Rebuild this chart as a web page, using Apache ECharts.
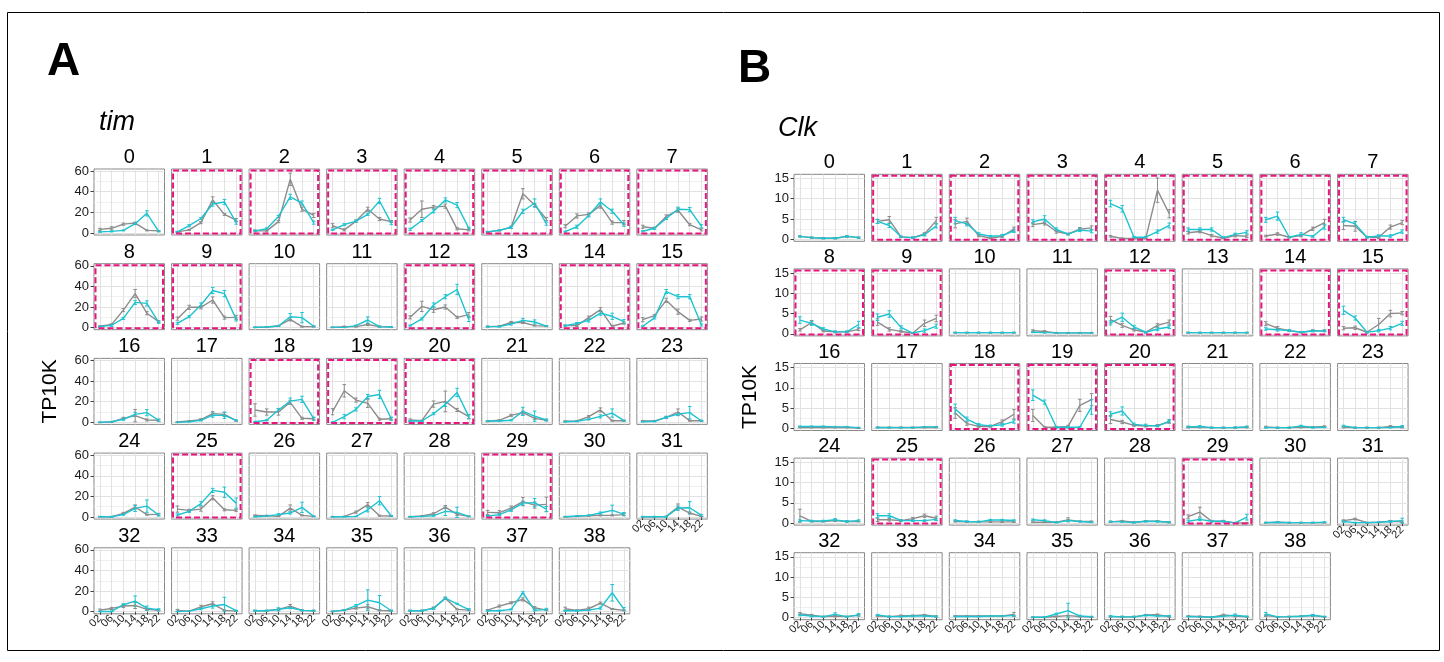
<!DOCTYPE html>
<html><head><meta charset="utf-8">
<script src="https://cdn.jsdelivr.net/npm/echarts@6/dist/echarts.min.js"></script>
<style>html,body{margin:0;padding:0;background:#fff}#c{width:1444px;height:662px}</style>
</head><body><div id="c"></div>
<script>
// ---------- data ----------
const hours = ['02','06','10','14','18','22'];
const clusters = ['0','1','2','3','4','5','6','7','8','9','10','11','12','13','14','15','16','17','18','19','20','21','22','23','24','25','26','27','28','29','30','31','32','33','34','35','36','37','38'];
const highlighted = [1,2,3,4,5,6,7,8,9,12,14,15,18,19,20,25,29];
const timTicks = [0,20,40,60];
const timGridVals = [0,10,20,30,40,50,60];
const clkTicks = [0,5,10,15];
const clkGridVals = [0,2.5,5,7.5,10,12.5,15];

const timGray = [
[3.5,4.5,8.5,9.5,2.5,2],[1,3,10,32,18,12.5],[2,2,11,52,23,17],[7,3,11.5,23,13.5,11],
[12.5,23,25,26,4,3],[1,2.5,5.5,38,27,13.5],[6.5,16.5,18,26.5,10,10],[6,4.5,16,22,8,3],
[1.3,3.2,17,33,14,5.8],[8.7,19.7,19.7,26.8,9.7,10],[0.3,0.6,1.6,8,1,1],[0.3,1,1,3,1,0.6],
[10,20.6,17.4,20,10,12.6],[1,1.5,5,5,2,1.5],[2,2,9.7,17.4,1.3,4.5],[7.7,11.6,26.5,15.5,7,8.4],
[0,0.3,3.9,6.5,2.3,2],[0.3,1.3,2.6,8.4,7.7,1.6],[12,10,10,19.4,3.9,3.5],[10.3,30.6,21.6,18.4,3,3.5],
[2.3,1.6,17.7,20.3,12,5.5],[1,2,6.8,9.4,3.9,2],[1,1.3,5.5,12,1.6,1.6],[1.3,1.3,4.8,10,1.6,1.6],
[0.3,0.3,3.5,9.7,2.3,2.6],[7.7,6.5,7.7,18.7,7,6.5],[1.6,1.3,0.6,8.7,1.6,0.6],[0.3,0.6,4.8,12,1.3,1],
[0.3,1,3.2,9.7,2.6,0.6],[4.5,4.2,8.7,15,11.6,12.3],[0.3,0.6,1.3,1.6,1.6,2.3],[0.3,0.3,0.6,9.7,3.9,0.6],
[1.6,3.2,5.5,6.1,2.3,1.3],[1.3,0.6,4.8,7.7,1.3,0.6],[1,1,2.3,5.5,1.3,1],[0.3,1.6,3.5,4.8,1.3,1],
[1,1,3.5,13,2.3,1.6],[1.6,5.5,8.7,12,3.9,1.6],[2.9,1.3,2.9,8.4,2.6,1.3]];
const timCyan = [
[1,1.5,2.5,9,19,1.5],[1,7,14,28,30,10],[2,4,16,35,29,10],[3,8,11.5,18,31,9.5],
[3.5,12,21,32,27,4.5],[1,2.5,5.5,21,29,9],[1.3,6,17,30,21,8],[1.6,4.5,14,23,22.6,6.5],
[1,2.3,9,24.5,23.5,5.2],[4.2,10.6,22,36,33,8],[0.3,0.6,1.6,10.6,9.7,1.3],[0.3,0.3,2,7.4,1,0.6],
[2,8.4,22,30,37,8],[1,1,3.5,7,5.5,1.5],[2,4,7,14,11,5.8],[1.3,9.4,35,30,30,2.6],
[0,0.6,3,7.7,9.4,2],[0,0.6,2,7,6.8,1.8],[0.6,2,12,20.6,22.3,3.5],[0,5.5,12.6,25,27,3.5],
[1.3,1.3,8.4,17.4,29,5.5],[1.3,1.3,2,10.6,6,2.3],[0.6,1,2.9,5.8,9,1.6],[0.6,1,4.8,8,9.4,1.3],
[0.3,0.3,2.3,8.4,10.6,2],[2,5.5,13,25.8,24,13.5],[0.3,1,2.3,3.9,9.4,0.6],[0.3,0.3,0.6,7,15.8,1],
[0.3,0.6,1.3,5.5,4.5,0.6],[1,2.3,7,13.5,14,7.7],[0.3,1,1.6,3.9,6.5,2.9],[0.3,0.3,0.3,8.7,9,1.6],
[0.3,0.3,6.8,10.3,3.5,1.9],[0.3,0.6,2.9,5.5,7,1],[1,1,2.3,3.9,1.3,1],[0.3,1.6,6,11.3,8.7,1],
[1,1,3.2,13.2,7.7,2],[1,1,2.3,18.4,1.3,2.3],[1,1,1.6,3.5,18.4,2.6]];
const timGrayErr = [
[1,1.5,1,1,0.5,0.5],[0.5,0.5,1,3,1,1.5],[1,1,1,6,2,2],[2,1,1,2,1.5,1],
[2,8,1.5,2,1,1],[0.5,0.5,1,5,1.5,1.5],[1.5,2,1.5,2.5,1.5,2],[1.5,1,1.5,2,1,1],
[0.5,0.5,1.5,4,1.5,1],[1.5,2,1.5,3,1.5,2],[0.3,0.3,0.5,1.5,0.5,0.5],[0.3,0.5,0.5,1,0.5,0.3],
[1.5,5,2.5,2,1,2],[0.5,0.5,1,1,0.5,0.5],[0.5,1,1.5,2,1,1],[2,1,2,2.5,1,2],
[0.3,0.3,1,6,1,1],[0.3,0.5,1,2,2,0.5],[6,3,3,2,1,1],[3,6,2,4,1,1],
[1,0.5,3,10,1.5,2],[0.5,0.5,1,1.5,1,0.5],[0.5,0.5,1,2,0.5,0.5],[0.5,0.5,1,3,0.5,0.5],
[0.3,0.3,1,2,0.5,1],[3,1,2,2,1,1],[0.5,0.5,0.3,3,0.5,0.3],[0.3,0.3,1,2,0.5,0.5],
[0.3,0.5,1,1.5,1,0.3],[2,2,2,4,3,7],[0.3,0.3,0.5,0.5,0.5,1],[0.3,0.3,0.3,3,1,0.3],
[1,1,1.5,3,1,0.5],[1,0.3,1.5,2,0.5,0.3],[0.5,0.5,1,1.5,0.5,0.5],[0.3,0.5,1,2,0.5,0.5],
[0.5,0.5,1,1,0.5,0.5],[0.5,1,1,1.5,1,0.5],[1.5,0.5,1.5,1,0.5,0.5]];
const timCyanErr = [
[0.5,0.5,0.5,1,2.5,0.5],[0.5,1,1,2,2.5,1.5],[0.5,1,1,2.5,2,1.5],[0.5,1,1,1,2.5,1.5],
[1,1,1.5,2,2.5,1],[0.5,0.5,1,2,4,1.5],[0.5,1.5,1.5,3,2,1.5],[0.5,1,1,2,2,1.5],
[0.5,1,1,2,2.5,1],[1,1,2,3,3,1.5],[0.3,0.3,0.5,3,5,0.5],[0.3,0.3,0.5,3,0.5,0.3],
[0.5,1,2,2,5,2],[0.5,0.5,1,2,2,0.5],[0.5,1,1.5,2,3,2],[0.5,1,2,2,2,1],
[0.3,0.3,1,2,3,1],[0.3,0.3,0.5,2,3,0.5],[0.5,0.5,1.5,3,3,1.5],[0.5,2,1.5,2,4,1.5],
[0.5,0.5,1,2,4,2],[0.5,0.5,0.5,4,5,1],[0.3,0.5,0.5,1.5,4,0.5],[0.3,0.5,1,1.5,6,0.5],
[0.3,0.3,0.5,3,6,1],[1,1,2,2,5,5],[0.3,0.5,1,1,5,0.3],[0.3,0.3,0.3,2,4,0.5],
[0.3,0.3,0.5,4,5,0.3],[0.5,1,1.5,2,4,2.5],[0.3,0.5,0.5,1,5,1.5],[0.3,0.3,0.3,2,6,1],
[0.3,0.3,1,5,2,1],[0.3,0.3,1,2,7,0.5],[0.5,0.5,1.5,1,0.5,0.5],[0.3,0.5,1,10,7,0.5],
[0.5,0.5,1,1,0.5,1],[0.5,0.5,0.5,1,0.5,1],[0.5,0.5,0.5,1,8,1.5]];

const clkGray = [
[0.7,0.4,0.25,0.25,0.7,0.4],[4.4,4.8,0.6,0.4,1.3,4.6],[3.8,4.4,0.9,0.25,0.75,2.5],[3.6,4,1.9,1.3,2.5,2.8],
[0.75,0.2,0.2,0.2,12.1,6.3],[1.6,1.9,0.9,0.25,0.9,0.75],[0.8,1.3,0.5,0.9,2.6,4.1],[3.4,3.2,0.5,0.5,3,4.1],
[1,2.8,0.7,0.5,0.5,1.1],[2.9,1.1,0.6,0.2,2.6,3.8],[0.3,0.3,0.3,0.3,0.3,0.3],[0.8,0.6,0.25,0.25,0.25,0.25],
[3.5,2.1,1,0.4,2.1,2.9],[0.3,0.3,0.3,0.3,0.3,0.3],[2.5,1.4,0.8,0.4,0.8,0.8],[1.4,1.5,0.4,2.3,5,5.1],
[0.25,0.25,0.25,0.25,0.25,0.1],[0.25,0.25,0.25,0.25,0.25,0.25],[3.8,1.2,0.5,0.5,1.7,3.5],[3.2,0.3,0.3,0.5,5.7,7.1],
[2.2,1.6,0.75,0.6,0.75,1.6],[0.3,0.3,0.2,0.2,0.2,0.3],[0.4,0.2,0.2,0.3,0.3,0.5],[0.3,0.2,0.2,0.2,0.5,0.3],
[1.8,0.4,0.4,0.6,0.4,0.4],[0.8,0.8,0.6,1.1,1.8,1.2],[0.4,0.3,0.3,0.3,0.3,0.3],[0.2,0.2,0.2,0.8,0.4,0.4],
[0.3,0.5,0.2,0.45,0.45,0.2],[1.6,2.7,0.45,0.45,0.05,0.05],[0.1,0.2,0.1,0.1,0.1,0.1],[0.6,1,0.1,0.2,0.45,0.3],
[1,0.6,0.25,0.4,0.25,0.6],[0.4,0.25,0.5,0.5,0.65,0.3],[0.4,0.4,0.4,0.4,0.4,0.8],[0.1,0.1,0.3,0.5,0.3,0.15],
[0.25,0.2,0.2,0.65,0.75,0.25],[0.35,0.3,0.1,0.65,0.4,0.2],[0.5,0.2,0.25,0.35,0.5,0.2]];
const clkCyan = [
[0.7,0.4,0.25,0.25,0.7,0.4],[4.4,3.4,0.6,0.4,1.1,3.3],[4.6,3.8,1.3,0.75,0.9,2.1],[4.3,5,2.4,1.25,2.3,2],
[8.8,7.5,0.5,0.5,1.9,3.4],[2.4,2.4,2.4,0.4,1.2,1.7],[4.8,5.7,0.5,1.2,0.7,3.1],[4.8,3.8,0.5,0.8,0.8,1.9],
[3.4,2.6,1.2,0.5,0.5,2.3],[4.1,4.9,1.6,0.2,0.8,1.9],[0.3,0.3,0.3,0.3,0.3,0.3],[0.4,0.3,0.25,0.25,0.25,0.25],
[2.7,4.1,1.7,0.4,1.2,1.7],[0.3,0.3,0.3,0.3,0.3,0.3],[1.2,1,0.8,0.4,0.7,0.7],[5.8,3.9,0.4,0.8,1.4,2.6],
[0.5,0.5,0.5,0.4,0.4,0.2],[0.25,0.2,0.2,0.2,0.4,0.4],[4.8,2.3,0.9,0.65,0.9,1.7],[8.2,6.5,0.3,0.3,0.3,5.3],
[3.5,4.3,1,0.75,0.6,1.8],[0.4,0.5,0.2,0.2,0.25,0.4],[0.2,0.2,0.2,0.6,0.25,0.3],[0.6,0.2,0.2,0.2,0.25,0.5],
[0.6,0.5,0.5,0.8,0.4,0.6],[1.8,1.8,0.65,0.6,0.6,0.9],[0.65,0.4,0.3,0.75,0.75,0.65],[0.8,0.6,0.15,0.6,0.4,0.2],
[0.35,0.3,0.15,0.45,0.4,0.2],[0.45,0.9,0.45,0.45,0.05,1.45],[0.1,0.2,0.1,0.1,0.1,0.2],[0.4,0.1,0.1,0.2,0.4,0.6],
[0.65,0.4,0.25,0.8,0.25,0.7],[0.65,0.25,0.3,0.4,0.4,0.3],[0.3,0.3,0.3,0.4,0.4,0.5],[0.1,0.1,0.9,1.75,0.4,0.25],
[0.35,0.2,0.2,0.6,0.4,0.4],[0.3,0.2,0.1,0.35,0.6,0.3],[0.9,0.2,0.25,0.35,0.6,0.25]];
const clkGrayErr = [
[0.15,0.15,0.15,0.15,0.15,0.15],[0.5,0.8,0.15,0.15,0.3,0.8],[1,0.8,0.3,0.15,0.3,0.5],[0.5,0.5,0.4,0.2,0.4,0.5],
[0.2,0.1,0.1,0.1,3,1],[0.3,0.3,0.3,0.1,0.3,0.3],[0.2,0.3,0.1,0.3,0.4,0.8],[1,1.2,0.2,0.3,0.5,0.5],
[0.3,0.5,0.2,0.2,0.2,0.3],[0.8,0.4,0.2,0.1,0.8,0.8],[0.1,0.1,0.1,0.1,0.1,0.1],[0.2,0.2,0.1,0.1,0.1,0.1],
[0.8,0.5,0.3,0.2,0.4,0.5],[0.1,0.1,0.1,0.1,0.1,0.1],[0.5,0.4,0.2,0.2,0.2,0.2],[0.4,0.4,0.2,1.5,0.8,0.4],
[0.1,0.1,0.1,0.1,0.1,0.1],[0.1,0.1,0.1,0.1,0.1,0.1],[1.3,0.4,0.2,0.2,0.4,1.2],[1.5,0.2,0.2,0.3,1.5,1.5],
[1,0.4,0.2,0.2,0.2,0.3],[0.15,0.15,0.15,0.15,0.15,0.15],[0.15,0.15,0.15,0.15,0.15,0.15],[0.15,0.15,0.15,0.15,0.2,0.15],
[1.6,0.1,0.1,0.2,0.1,0.1],[0.4,0.3,0.2,0.3,0.4,0.5],[0.15,0.15,0.15,0.15,0.15,0.15],[0.1,0.1,0.1,0.5,0.1,0.1],
[0.15,0.15,0.15,0.15,0.15,0.15],[0.4,1.2,0.2,0.2,0.1,0.1],[0.1,0.1,0.1,0.1,0.1,0.1],[0.2,0.2,0.1,0.1,0.2,0.2],
[0.3,0.2,0.1,0.2,0.1,0.2],[0.15,0.15,0.15,0.15,0.15,0.15],[0.1,0.1,0.1,0.1,0.1,0.5],[0.1,0.1,0.1,0.1,0.1,0.1],
[0.15,0.15,0.15,0.15,0.15,0.15],[0.1,0.1,0.1,0.2,0.2,0.1],[0.2,0.1,0.1,0.1,0.2,0.1]];
const clkCyanErr = [
[0.15,0.15,0.15,0.15,0.15,0.15],[0.5,0.5,0.15,0.15,0.3,0.5],[0.8,0.5,0.3,0.2,0.3,0.4],[0.5,0.8,0.4,0.2,0.4,0.4],
[0.8,0.8,0.2,0.2,0.4,0.6],[0.4,0.4,0.4,0.2,0.3,0.4],[0.6,1,0.2,0.4,0.2,0.6],[0.6,0.5,0.2,0.3,0.3,0.4],
[0.8,0.5,0.3,0.2,0.2,0.8],[0.8,0.8,0.4,0.1,0.4,0.5],[0.1,0.1,0.1,0.1,0.1,0.1],[0.1,0.1,0.1,0.1,0.1,0.1],
[0.5,1,0.4,0.2,0.4,0.4],[0.1,0.1,0.1,0.1,0.1,0.1],[0.3,0.3,0.2,0.1,0.2,0.2],[1,0.5,0.2,0.3,0.4,0.5],
[0.1,0.1,0.1,0.1,0.1,0.1],[0.1,0.1,0.1,0.1,0.1,0.1],[1.2,0.5,0.3,0.2,0.3,0.4],[1.3,0.5,0.2,0.2,0.2,1.8],
[0.6,1,0.3,0.3,0.2,0.4],[0.2,0.2,0.1,0.1,0.1,0.2],[0.1,0.1,0.1,0.2,0.1,0.1],[0.2,0.1,0.1,0.1,0.1,0.2],
[0.2,0.2,0.2,0.3,0.2,0.2],[0.5,0.5,0.2,0.2,0.2,0.3],[0.15,0.15,0.15,0.15,0.15,0.15],[0.2,0.2,0.1,0.2,0.1,0.1],
[0.15,0.15,0.15,0.15,0.15,0.15],[0.3,0.3,0.2,0.2,0.1,0.7],[0.1,0.1,0.1,0.1,0.1,0.1],[0.2,0.1,0.1,0.1,0.2,0.6],
[0.2,0.2,0.1,0.4,0.1,0.3],[0.15,0.15,0.15,0.15,0.15,0.15],[0.1,0.1,0.1,0.1,0.1,0.1],[0.1,0.1,0.2,1.8,0.2,0.1],
[0.15,0.15,0.15,0.15,0.15,0.15],[0.1,0.1,0.1,0.1,0.3,0.1],[0.4,0.1,0.1,0.1,0.2,0.1]];

// ---------- style / layout ----------
const FONT = '"Liberation Sans", Arial, Helvetica, sans-serif';
const C_GRAY = '#8c8c8c', C_CYAN = '#1dc3d1', C_PINK = '#e8177f';
const C_MAJOR = '#e2e2e2', C_MINOR = '#f0f0f0', C_BORDER = '#888888';

const panelsCfg = [
  {gray: timGray, cyan: timCyan, grayErr: timGrayErr, cyanErr: timCyanErr,
   ticks: timTicks, gridVals: timGridVals, ymin: -2, ymax: 62, yint: 2,
   x0: 94, colStep: 77.55, w: 70.5, y0: 169, rowStep: 94.7, h: 66},
  {gray: clkGray, cyan: clkCyan, grayErr: clkGrayErr, cyanErr: clkCyanErr,
   ticks: clkTicks, gridVals: clkGridVals, ymin: -0.5, ymax: 16, yint: 0.5,
   x0: 794, colStep: 77.65, w: 70.5, y0: 174.3, rowStep: 94.6, h: 67}
];

const grids = [], xAxes = [], yAxes = [], series = [], graphics = [];

function errRender(color) {
  return function (params, api) {
    const x = api.value(0);
    const lo = api.coord([x, api.value(1)]);
    const hi = api.coord([x, api.value(2)]);
    const st = {stroke: color, lineWidth: 1};
    return {type: 'group', children: [
      {type: 'line', shape: {x1: lo[0], y1: lo[1], x2: hi[0], y2: hi[1]}, style: st},
      {type: 'line', shape: {x1: lo[0] - 1.8, y1: lo[1], x2: lo[0] + 1.8, y2: lo[1]}, style: st},
      {type: 'line', shape: {x1: hi[0] - 1.8, y1: hi[1], x2: hi[0] + 1.8, y2: hi[1]}, style: st}
    ]};
  };
}

const xVals = [0,1,2,3,4,5];
// label positions padded with empty end labels so that min/max overlap pruning never removes a real label
const xLabelVals = [-0.5,0,1,2,3,4,5,5.5];

panelsCfg.forEach(function (cfg) {
  // split lines follow tick custom values: alternate major / minor colours
  const ySplit = cfg.gridVals.map(function (v) { return cfg.ticks.indexOf(v) >= 0 ? C_MAJOR : C_MINOR; });
  clusters.forEach(function (cl, i) {
    const row = Math.floor(i / 8), col = i % 8;
    const left = cfg.x0 + col * cfg.colStep;
    const top = cfg.y0 + row * cfg.rowStep;
    const k = grids.length;
    const showX = (row === 4) || (row === 3 && col === 7);
    const showY = col === 0;
    grids.push({left: left, top: top, width: cfg.w, height: cfg.h, show: true,
      borderColor: C_BORDER, borderWidth: 1, backgroundColor: '#fff'});
    xAxes.push({gridIndex: k, type: 'value', min: -0.5, max: 5.5, interval: 0.5,
      axisLine: {show: false},
      axisTick: {show: showX, customValues: xVals, length: 3, lineStyle: {color: '#444'}},
      axisLabel: {show: showX, customValues: xLabelVals, rotate: 45, margin: 3, fontSize: 11,
        hideOverlap: false,
        fontFamily: FONT, color: '#222',
        formatter: function (v) { return (Number.isInteger(v) && hours[v]) ? hours[v] : ''; }},
      splitLine: {show: true, lineStyle: {color: C_MAJOR, width: 1}}});
    const yi = yAxes.length;
    const yA = {gridIndex: k, type: 'value', min: cfg.ymin, max: cfg.ymax, interval: cfg.yint,
      position: 'left',
      axisLine: {show: false},
      axisTick: {show: false, customValues: cfg.gridVals},
      axisLabel: {show: false},
      splitLine: {show: true, lineStyle: {color: ySplit, width: 1}}};
    yAxes.push(yA);
    if (showY) {
      const yB = {gridIndex: k, type: 'value', min: cfg.ymin, max: cfg.ymax, interval: cfg.yint,
        position: 'left', offset: 0,
        axisLine: {show: false},
        axisTick: {show: true, customValues: cfg.ticks, length: 3.5, lineStyle: {color: '#444'}},
        axisLabel: {show: true, customValues: cfg.ticks, margin: 5, fontSize: 13, fontFamily: FONT,
          showMinLabel: true, showMaxLabel: true, color: '#1a1a1a',
          formatter: function (v) { return cfg.ticks.indexOf(v) >= 0 ? String(v) : ''; }},
        splitLine: {show: false}};
      if (i === 16) {
        yB.name = 'TP10K'; yB.nameLocation = 'middle'; yB.nameRotate = 90; yB.nameGap = 33;
        yB.nameTextStyle = {fontSize: 21, fontFamily: FONT, color: '#000'};
      }
      yAxes.push(yB);
    }
    [[cfg.gray[i], cfg.grayErr[i], C_GRAY], [cfg.cyan[i], cfg.cyanErr[i], C_CYAN]].forEach(function (s) {
      const vals = s[0], errs = s[1], color = s[2];
      series.push({type: 'line', xAxisIndex: k, yAxisIndex: yi, animation: false, silent: true,
        showSymbol: false, symbol: 'none',
        data: vals.map(function (v, j) { return [j, v]; }),
        lineStyle: {color: color, width: 1.4}});
      series.push({type: 'custom', xAxisIndex: k, yAxisIndex: yi, animation: false, silent: true,
        renderItem: errRender(color), encode: {x: 0, y: [1, 2]},
        data: vals.map(function (v, j) { return [j, v - errs[j], v + errs[j]]; })});
    });
    graphics.push({type: 'text', x: left + cfg.w / 2, y: top - 11.5, silent: true,
      style: {text: cl, fill: '#000', font: '20px ' + FONT, textAlign: 'center', textVerticalAlign: 'middle'}});
    if (highlighted.indexOf(i) >= 0) {
      graphics.push({type: 'rect', silent: true, z: 100,
        shape: {x: left + 1.5, y: top + 1.5, width: cfg.w - 3, height: cfg.h - 3},
        style: {fill: 'none', stroke: C_PINK, lineWidth: 2, lineDash: [6, 3]}});
    }
  });
});

graphics.push({type: 'rect', silent: true, shape: {x: 7.5, y: 12.5, width: 1432, height: 638},
  style: {fill: 'none', stroke: '#000', lineWidth: 1}});
graphics.push({type: 'text', x: 47, y: 62, silent: true,
  style: {text: 'A', fill: '#000', font: 'bold 46px ' + FONT, textVerticalAlign: 'middle'}});
graphics.push({type: 'text', x: 738, y: 69, silent: true,
  style: {text: 'B', fill: '#000', font: 'bold 46px ' + FONT, textVerticalAlign: 'middle'}});
graphics.push({type: 'text', x: 99, y: 122, silent: true,
  style: {text: 'tim', fill: '#000', font: 'italic 27px ' + FONT, textVerticalAlign: 'middle'}});
graphics.push({type: 'text', x: 778, y: 128, silent: true,
  style: {text: 'Clk', fill: '#000', font: 'italic 27px ' + FONT, textVerticalAlign: 'middle'}});

const chart = echarts.init(document.getElementById('c'), null, {renderer: 'canvas'});
chart.setOption({
  animation: false,
  backgroundColor: '#fff',
  grid: grids, xAxis: xAxes, yAxis: yAxes, series: series,
  graphic: {elements: graphics}
});
</script></body></html>
